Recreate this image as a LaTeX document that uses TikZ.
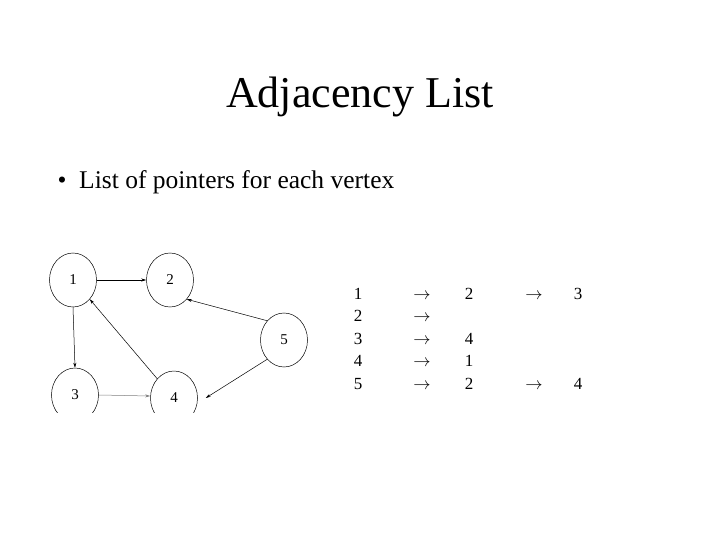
\documentclass[tikz,border=0pt]{standalone}
\usepackage{fontspec}
\setmainfont{Liberation Serif}
\usetikzlibrary{shapes.geometric,arrows.meta}
\begin{document}
\begin{tikzpicture}[x=1pt,y=-1pt,
  vert/.style={draw,ellipse,minimum width=47pt,minimum height=54pt,inner sep=0pt,line width=0.5pt,font=\fontsize{15}{17}\selectfont},
  edge/.style={-{Stealth[length=5pt,width=3pt]},line width=0.5pt},
  lt/.style={font=\fontsize{17}{19}\selectfont,anchor=base}]
\useasboundingbox (0,0) rectangle (720,540);
\node[font=\fontsize{44}{50}\selectfont] (title) at (360,97) {Adjacency List};
\node[font=\fontsize{25.5}{30}\selectfont,anchor=west] (b) at (54,182) {\textbullet\ \ List of pointers for each vertex};
\begin{scope}
\clip (0,0) rectangle (720,412);
\node[vert] (n1) at (73,280) {1};
\node[vert] (n2) at (170,280) {2};
\node[vert] (n5) at (284,340) {5};
\node[vert] (n3) at (75,395) {3};
\node[vert] (n4) at (174,398) {4};
\end{scope}
\draw[edge] (n1.east) -- (n2.west);
\draw[edge] (n1.south) -- (n3.north);
\draw[edge,draw=gray] (n3.east) -- ([yshift=2pt]n4.west);
\draw[edge] (n4.north west) -- (n1.south east);
\draw[edge] (n5.north west) -- (n2.south east);
\draw[edge] (n5.south west) -- ([xshift=8pt]n4.east);
\foreach \r/\a/\b/\c/\d [count=\i] in {1/1/2/1/3, 2/1//0/, 3/1/4/0/, 4/1/1/0/, 5/1/2/1/4}{
  \pgfmathsetmacro\yy{299+22.5*(\i-1)}
  \node[lt] (r\i) at (358,\yy) {\r};
  \node[lt] (a\i) at (422,\yy) {$\rightarrow$};
  \node[lt] (b\i) at (469,\yy) {\b};
  \ifnum\c=1
    \node[lt] (c\i) at (534,\yy) {$\rightarrow$};
    \node[lt] (d\i) at (578,\yy) {\d};
  \fi
}
\end{tikzpicture}
\end{document}
